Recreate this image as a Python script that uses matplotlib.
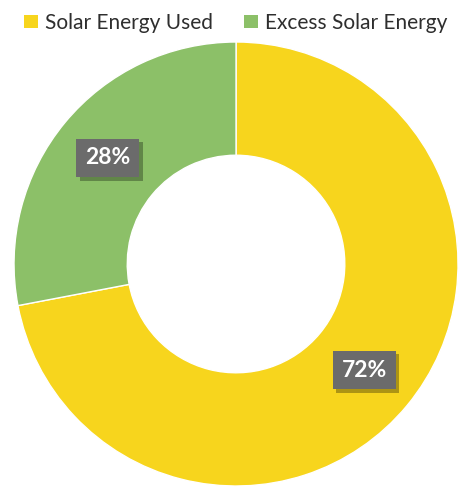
import matplotlib
matplotlib.use("Agg")
import matplotlib.pyplot as plt
import matplotlib.patheffects as pe
from matplotlib.patches import Patch
import numpy as np

plt.rcParams["font.family"] = ["Lato", "DejaVu Sans"]

labels = ["Solar Energy Used", "Excess Solar Energy"]
shares = [72, 28]
colors = ["#F7D51D", "#8CC068"]

fig = plt.figure(figsize=(4.72, 4.93), dpi=100)
ax = fig.add_axes([0.0297, 0.0142, 0.9407, 0.9006])

wedges, _ = ax.pie(
    shares,
    colors=colors,
    startangle=90,
    counterclock=False,
    radius=1.0,
    wedgeprops=dict(width=0.51, edgecolor="white", linewidth=1.0),
)
ax.set_xlim(-1, 1)
ax.set_ylim(-1, 1)
ax.set_aspect("equal")
ax.axis("off")

# value boxes at the middle of each ring segment
mid_r = 0.75
for w, val in zip(wedges, shares):
    ang = np.deg2rad((w.theta1 + w.theta2) / 2)
    t = ax.text(
        mid_r * np.cos(ang), mid_r * np.sin(ang), f"{val}%",
        ha="center", va="center", color="white", fontsize=16.5, fontweight="bold",
        bbox=dict(boxstyle="square,pad=0.38", facecolor="#6B6B6B", edgecolor="none"),
    )
    t.get_bbox_patch().set_path_effects(
        [pe.SimplePatchShadow(offset=(2.5, -2.5), shadow_rgbFace="black", alpha=0.3), pe.Normal()]
    )

handles = [Patch(facecolor=c, edgecolor="none") for c in colors]
fig.legend(
    handles, labels, loc="upper center", bbox_to_anchor=(0.5, 1.012), ncol=2,
    frameon=False, fontsize=15, handlelength=0.65, handleheight=0.65,
    handletextpad=0.35, columnspacing=1.5, labelcolor="#2E2E2E",
)

fig.savefig("out.png", dpi=100)
